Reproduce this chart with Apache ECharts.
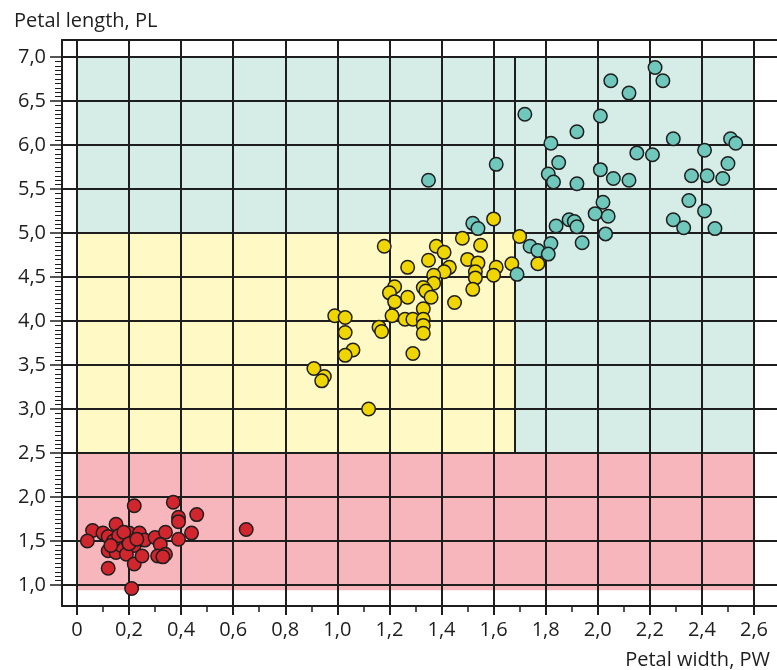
<!DOCTYPE html>
<html>
<head>
<meta charset="utf-8">
<script src="https://cdn.jsdelivr.net/npm/echarts@6/dist/echarts.min.js"></script>
<style>
  html, body { margin: 0; padding: 0; background: #fff; }
  #chart { width: 777px; height: 670px; }
</style>
</head>
<body>
<div id="chart"></div>
<script>
// tick values
const xTicks = [0, 0.2, 0.4, 0.6, 0.8, 1.0, 1.2, 1.4, 1.6, 1.8, 2.0, 2.2, 2.4, 2.6];
const xMinorTicks = [0.1, 0.3, 0.5, 0.7, 0.9, 1.1, 1.3, 1.5, 1.7, 1.9, 2.1, 2.3, 2.5];
const yTicks = [1.0, 1.5, 2.0, 2.5, 3.0, 3.5, 4.0, 4.5, 5.0, 5.5, 6.0, 6.5, 7.0];
const yMinorTicks = [];
for (let i = 21; i < 140; i++) if (i % 10) yMinorTicks.push(i / 20);

// [petal width, petal length]
const setosa = [
  [0.22, 1.90], [0.37, 1.94], [0.46, 1.80], [0.39, 1.77], [0.39, 1.72], [0.65, 1.63],
  [0.06, 1.62], [0.04, 1.50], [0.10, 1.59], [0.15, 1.69], [0.12, 1.55], [0.12, 1.39],
  [0.15, 1.37], [0.12, 1.19], [0.17, 1.45], [0.20, 1.59], [0.24, 1.59], [0.26, 1.51],
  [0.22, 1.45], [0.19, 1.35], [0.22, 1.24], [0.25, 1.33], [0.21, 0.96], [0.30, 1.54],
  [0.34, 1.60], [0.32, 1.46], [0.34, 1.35], [0.31, 1.33], [0.33, 1.32], [0.39, 1.52],
  [0.44, 1.59], [0.19, 1.52], [0.14, 1.50], [0.16, 1.56], [0.18, 1.60], [0.20, 1.47],
  [0.23, 1.52], [0.13, 1.45]
];
const versicolor = [
  [0.91, 3.46], [0.95, 3.37], [0.94, 3.32], [1.12, 3.00], [0.99, 4.06], [1.03, 4.04],
  [1.03, 3.87], [1.06, 3.67], [1.03, 3.61], [1.29, 3.63], [1.60, 5.16], [1.48, 4.94],
  [1.55, 4.86], [1.70, 4.96], [1.67, 4.65], [1.77, 4.65], [1.18, 4.85], [1.38, 4.85],
  [1.41, 4.78], [1.35, 4.69], [1.27, 4.61], [1.43, 4.61], [1.41, 4.56], [1.37, 4.52],
  [1.37, 4.43], [1.50, 4.70], [1.54, 4.66], [1.53, 4.56], [1.53, 4.49], [1.52, 4.36],
  [1.61, 4.61], [1.60, 4.52], [1.22, 4.39], [1.20, 4.32], [1.22, 4.22], [1.33, 4.38],
  [1.34, 4.34], [1.36, 4.27], [1.27, 4.27], [1.45, 4.21], [1.33, 4.14], [1.21, 4.06],
  [1.26, 4.02], [1.29, 4.02], [1.33, 4.02], [1.16, 3.93], [1.17, 3.88], [1.33, 3.95],
  [1.33, 3.86]
];
const virginica = [
  [2.22, 6.88], [2.25, 6.73], [2.05, 6.73], [2.12, 6.59], [1.72, 6.35], [2.01, 6.33],
  [1.92, 6.15], [1.82, 6.02], [1.61, 5.78], [1.85, 5.80], [1.81, 5.67], [1.83, 5.58],
  [1.92, 5.56], [2.01, 5.72], [2.06, 5.62], [2.12, 5.60], [2.15, 5.91], [2.21, 5.89],
  [2.29, 6.07], [2.41, 5.94], [2.51, 6.07], [2.53, 6.02], [2.50, 5.79], [2.36, 5.65],
  [2.42, 5.65], [2.48, 5.62], [2.35, 5.37], [2.41, 5.25], [2.29, 5.15], [2.33, 5.06],
  [2.45, 5.05], [2.02, 5.35], [1.99, 5.22], [2.04, 5.19], [2.03, 4.99], [1.84, 5.08],
  [1.89, 5.15], [1.91, 5.13], [1.92, 5.07], [1.94, 4.89], [1.82, 4.88], [1.74, 4.85],
  [1.77, 4.80], [1.81, 4.76], [1.69, 4.53], [1.52, 5.11], [1.54, 5.05], [1.35, 5.60]
];

// decision zones: [x1, y1, x2, y2]
const widthSplit = 1.68;
const zoneSetosa = [[0, 0.94, 2.6, 2.5]];
const zoneVersicolor = [[0, 2.5, widthSplit, 5.0]];
const zoneVirginica = [[0, 5.0, 2.6, 7.0], [widthSplit, 2.5, 2.6, 5.0]];

const FONT = "'Open Sans', sans-serif";
const INK = '#1e1e1e';
const X_MIN = -0.0574, X_MAX = 2.6883, Y_MIN = 0.7614, Y_MAX = 7.1932;

const fmt = v => (v === 0 ? '0' : v.toFixed(1).replace('.', ','));

function zoneAreas(zones, color) {
  return zones.map(z => [
    { coord: [z[0], z[1]], itemStyle: { color: color } },
    { coord: [z[2], z[3]] }
  ]);
}

function pointSeries(data, color) {
  return {
    type: 'scatter',
    data: data,
    z: 5,
    symbolSize: 13.5,
    itemStyle: { color: color, borderColor: INK, borderWidth: 1.5, opacity: 1 },
    silent: true
  };
}

const chart = echarts.init(document.getElementById('chart'));

chart.setOption({
  animation: false,
  title: [
    { text: 'Petal length, PL', left: 9, top: 6,
      textStyle: { fontFamily: FONT, fontSize: 20, fontWeight: 'normal', color: INK } },
    { text: 'Petal width, PW', right: 2, top: 645,
      textStyle: { fontFamily: FONT, fontSize: 20, fontWeight: 'normal', color: INK } }
  ],
  grid: { left: 62, top: 40, width: 718, height: 566 },
  xAxis: [
    {
      type: 'value', position: 'bottom', min: X_MIN, max: X_MAX, splitNumber: 14, z: 3,
      axisLine: { show: true, onZero: false, lineStyle: { color: INK, width: 2 } },
      axisTick: { show: true, customValues: xTicks, length: 9, lineStyle: { color: INK, width: 2 } },
      axisLabel: { show: true, customValues: xTicks, formatter: fmt, margin: 14,
        fontFamily: FONT, fontSize: 20, color: INK },
      splitLine: { show: true, lineStyle: { color: INK, width: 2 } }
    },
    {
      type: 'value', position: 'bottom', min: X_MIN, max: X_MAX, z: 3,
      axisLine: { show: false, onZero: false },
      axisTick: { show: true, customValues: xMinorTicks, length: 6, lineStyle: { color: INK, width: 1.5 } },
      axisLabel: { show: false },
      splitLine: { show: false }
    },
    {
      type: 'value', position: 'top', min: X_MIN, max: X_MAX, z: 3,
      axisLine: { show: true, onZero: false, lineStyle: { color: INK, width: 2 } },
      axisTick: { show: false },
      axisLabel: { show: false },
      splitLine: { show: false }
    }
  ],
  yAxis: [
    {
      type: 'value', position: 'left', min: Y_MIN, max: Y_MAX, splitNumber: 13, z: 3,
      axisLine: { show: true, onZero: false, lineStyle: { color: INK, width: 2 } },
      axisTick: { show: true, customValues: yTicks, length: 12, lineStyle: { color: INK, width: 1.5 } },
      axisLabel: { show: true, customValues: yTicks, formatter: v => v.toFixed(1).replace('.', ','),
        margin: 16, fontFamily: FONT, fontSize: 20, color: INK },
      splitLine: { show: true, lineStyle: { color: INK, width: 2 } }
    },
    {
      type: 'value', position: 'left', min: Y_MIN, max: Y_MAX, z: 3,
      axisLine: { show: false, onZero: false },
      axisTick: { show: true, customValues: yMinorTicks, length: 7, lineStyle: { color: INK, width: 1 } },
      axisLabel: { show: false },
      splitLine: { show: false }
    }
  ],
  series: [
    {
      type: 'scatter',
      data: [],
      z: 1,
      silent: true,
      markArea: {
        silent: true,
        label: { show: false },
        data: [].concat(
          zoneAreas(zoneSetosa, '#f7b6bc'),
          zoneAreas(zoneVersicolor, '#fff9c6'),
          zoneAreas(zoneVirginica, '#d6ede7')
        )
      },
      markLine: {
        silent: true,
        symbol: ['none', 'none'],
        label: { show: false },
        lineStyle: { color: INK, width: 2, type: 'solid' },
        data: [[{ coord: [widthSplit, 2.5] }, { coord: [widthSplit, 7.0] }]]
      }
    },
    pointSeries(setosa, '#d2262f'),
    pointSeries(versicolor, '#efd600'),
    pointSeries(virginica, '#6fc8bb')
  ]
});
</script>
</body>
</html>
